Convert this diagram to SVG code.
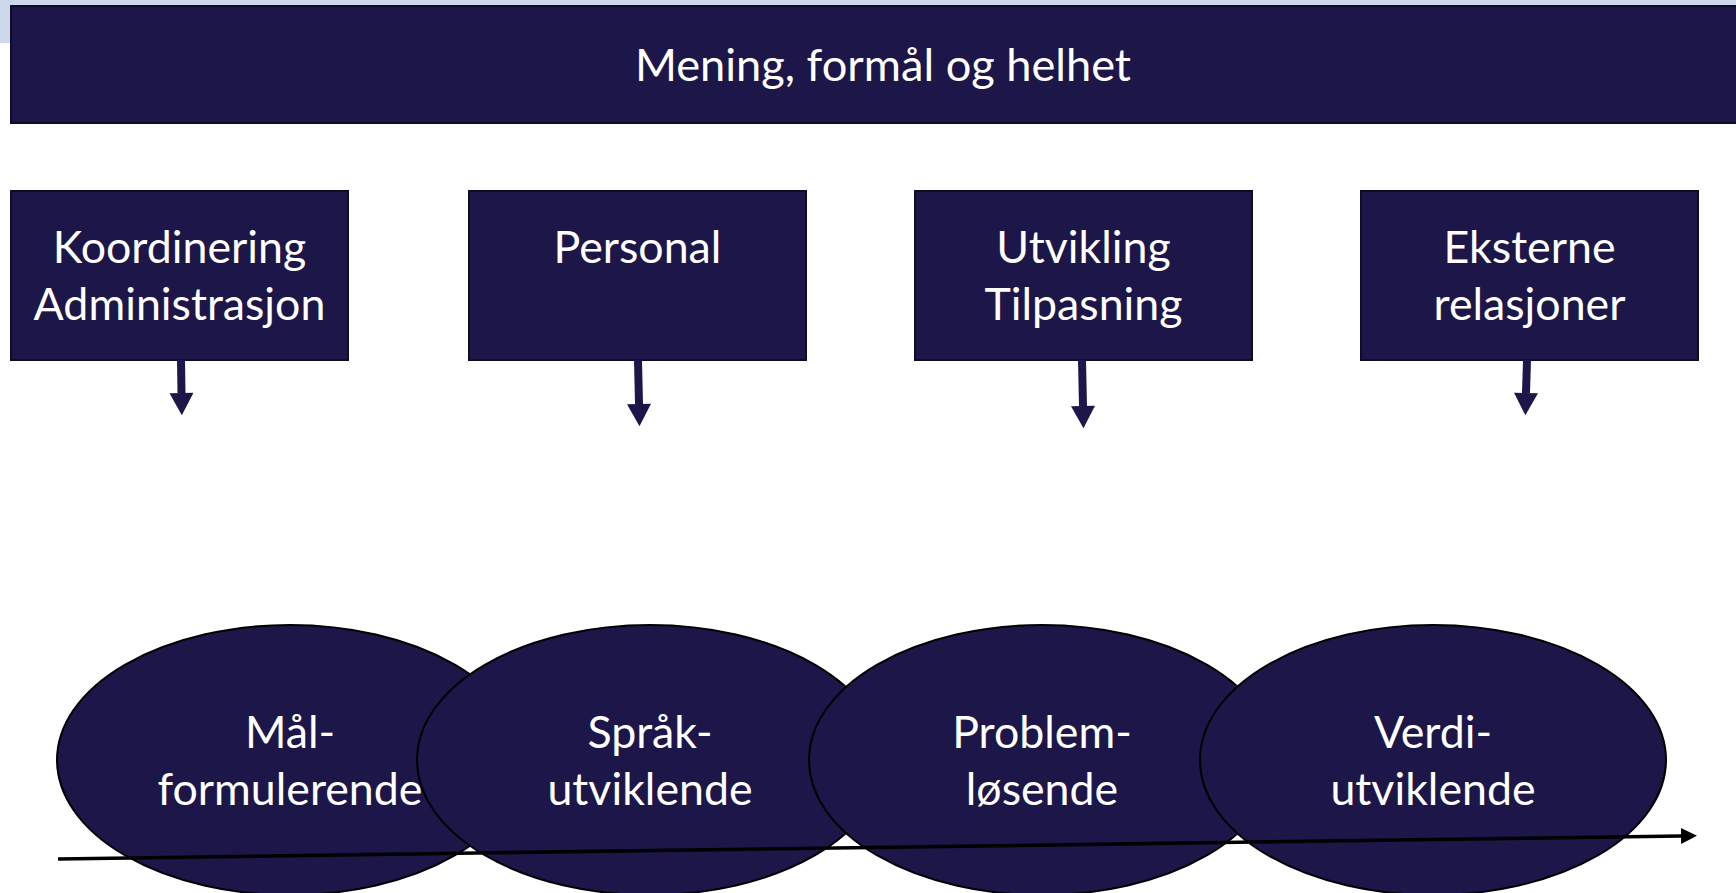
<svg xmlns="http://www.w3.org/2000/svg" width="1736" height="893" viewBox="0 0 1736 893">
  <defs>
    <style>
      .box { fill: #1D1649; stroke: #0E0C26; stroke-width: 2; }
      .ell { fill: #1D1649; stroke: #000000; stroke-width: 2; }
      .lbl { fill: #FFFFFF; font-family: Lato, "Open Sans", "Liberation Sans", sans-serif; font-size: 44.7px; text-anchor: middle; }
      .ttl { font-size: 45.2px; }
      .shaft { stroke: #1D1649; stroke-width: 8; fill: none; }
      .axis { stroke: #000000; stroke-width: 3.5; fill: none; }
    </style>
    <marker id="navyHead" markerUnits="userSpaceOnUse" markerWidth="26" markerHeight="24" refX="0" refY="13" orient="auto" viewBox="0 0 24 26">
      <polygon points="0,0 24,13 0,26" fill="#1D1649"/>
    </marker>
    <marker id="blackHead" markerUnits="userSpaceOnUse" markerWidth="16" markerHeight="16" refX="0" refY="8" orient="auto" viewBox="0 0 16 16">
      <polygon points="0,0 16,8 0,16" fill="#000000"/>
    </marker>
  </defs>

  <rect x="0" y="0" width="1736" height="43" fill="#CDD8EB"/>

  <g id="title">
    <rect class="box" x="11" y="6" width="1740" height="117"/>
    <text class="lbl ttl" x="883" y="81">Mening, formål og helhet</text>
  </g>

  <g id="box-koordinering">
    <rect class="box" x="11" y="191" width="337" height="169"/>
    <text class="lbl" x="179.5" y="263">Koordinering</text>
    <text class="lbl" x="179.5" y="320">Administrasjon</text>
  </g>
  <g id="box-personal">
    <rect class="box" x="469" y="191" width="337" height="169"/>
    <text class="lbl" x="637.5" y="263">Personal</text>
  </g>
  <g id="box-utvikling">
    <rect class="box" x="915" y="191" width="337" height="169"/>
    <text class="lbl" x="1083.5" y="263">Utvikling</text>
    <text class="lbl" x="1083.5" y="320">Tilpasning</text>
  </g>
  <g id="box-eksterne">
    <rect class="box" x="1361" y="191" width="337" height="169"/>
    <text class="lbl" x="1529.5" y="263">Eksterne</text>
    <text class="lbl" x="1529.5" y="320">relasjoner</text>
  </g>

  <g id="ellipse-maal">
    <ellipse class="ell" cx="290" cy="760" rx="233" ry="135"/>
    <text class="lbl" x="290" y="748">Mål-</text>
    <text class="lbl" x="290" y="805">formulerende</text>
  </g>
  <g id="ellipse-spraak">
    <ellipse class="ell" cx="650" cy="760" rx="233" ry="135"/>
    <text class="lbl" x="650" y="748">Språk-</text>
    <text class="lbl" x="650" y="805">utviklende</text>
  </g>
  <g id="ellipse-problem">
    <ellipse class="ell" cx="1042" cy="760" rx="233" ry="135"/>
    <text class="lbl" x="1042" y="748">Problem-</text>
    <text class="lbl" x="1042" y="805">løsende</text>
  </g>
  <g id="ellipse-verdi">
    <ellipse class="ell" cx="1433" cy="760" rx="233" ry="135"/>
    <text class="lbl" x="1433" y="748">Verdi-</text>
    <text class="lbl" x="1433" y="805">utviklende</text>
  </g>

  <g id="connectors">
    <line class="shaft" x1="181" y1="360" x2="181.5" y2="393" marker-end="url(#navyHead)"/>
    <line class="shaft" x1="638" y1="360" x2="639" y2="404" marker-end="url(#navyHead)"/>
    <line class="shaft" x1="1082" y1="360" x2="1083" y2="406" marker-end="url(#navyHead)"/>
    <line class="shaft" x1="1527" y1="360" x2="1526" y2="393" marker-end="url(#navyHead)"/>
    <line class="axis" x1="58" y1="859" x2="1681" y2="836" marker-end="url(#blackHead)"/>
  </g>
</svg>
